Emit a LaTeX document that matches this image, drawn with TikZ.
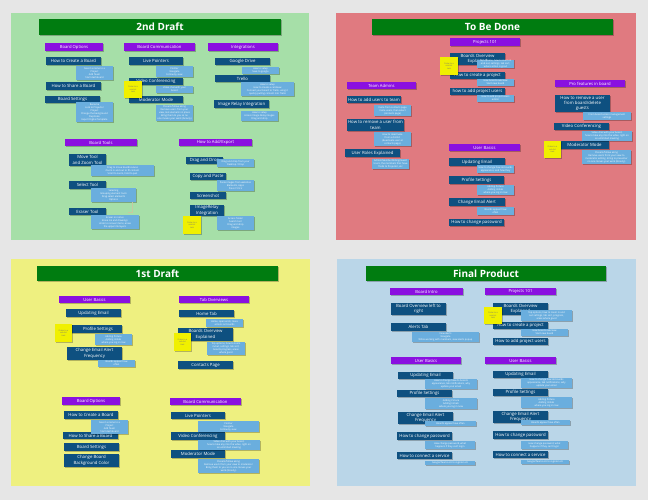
\documentclass[tikz,border=0pt]{standalone}
\usepackage{fontspec}
\setmainfont{Open Sans}
\usetikzlibrary{shadows}
\definecolor{pagebg}{HTML}{E6E6E6}
\definecolor{pgreen}{HTML}{A6DFA8}
\definecolor{pred}{HTML}{E07A80}
\definecolor{pyellow}{HTML}{EEF080}
\definecolor{pblue}{HTML}{BAD6E8}
\definecolor{titlegreen}{HTML}{007C10}
\definecolor{hpurple}{HTML}{8A10E0}
\definecolor{dblue}{HTML}{0E5080}
\definecolor{lblue}{HTML}{6AAEDE}
\definecolor{stickyy}{HTML}{F0F000}
\definecolor{faintline}{HTML}{C8C8A0}
\newcommand\mybox[7]{\node[#1,minimum width={(#4-#2)*1pt},minimum height={(#5-#3)*1pt}] (#6) at ({(#2+#4)/2},{(#3+#5)/2}) {#7};}
\tikzset{
  shd/.style={drop shadow={shadow xshift=0.5pt,shadow yshift=-0.7pt,opacity=0.25,fill=black}},
  titlebar/.style={fill=titlegreen,text=white,font=\bfseries\fontsize{10}{12}\selectfont,inner sep=0pt,shd},
  hdr/.style={fill=hpurple,text=white,font=\fontsize{4.2}{5}\selectfont,inner sep=0pt,shd},
  topic/.style={fill=dblue,text=white,font=\fontsize{4.3}{5.3}\selectfont,inner sep=0pt,align=center,shd},
  note/.style={fill=lblue,text=white,font=\fontsize{2.4}{3}\selectfont,inner sep=0pt,align=center,shd},
  sticky/.style={fill=stickyy,text=black!55,font=\fontsize{2}{2.6}\selectfont,inner sep=0pt,align=center,shd},
}
\begin{document}
\begin{tikzpicture}[x=1pt,y=-1pt]
\useasboundingbox (0,0) rectangle (648,500);
\fill[pagebg] (0,0) rectangle (648,500);
% panels
\fill[pgreen] (11,13) rectangle (309,240);
\fill[pred] (336,13) rectangle (636,240);
\fill[pyellow] (11,259) rectangle (310,486);
\fill[pblue] (337,259) rectangle (636,486);

%%%%%%%%%%%%%%%% 2nd Draft
\mybox{titlebar}{39}{19}{281}{35}{t1}{2nd Draft}
\mybox{hdr}{45}{43}{103}{51}{a1}{Board Options}
\mybox{hdr}{124}{43}{195}{51}{a2}{Board Communication}
\mybox{hdr}{208}{43}{278}{51}{a3}{Integrations}
\mybox{hdr}{65}{139}{137}{146}{a4}{Board Tools}
\mybox{hdr}{179}{139}{252}{146}{a5}{How to Add/Export}
% topics
\mybox{topic}{46}{57}{101}{65}{a1t1}{How to Create a Board}
\mybox{topic}{46}{82}{101}{90}{a1t2}{How to Share a Board}
\mybox{topic}{45}{96}{100}{103}{a1t3}{Board Settings}
\mybox{topic}{129}{57}{183}{65}{a2t1}{Live Pointers}
\mybox{topic}{129}{78}{183}{85}{a2t2}{Video Conferencing}
\mybox{topic}{129}{96}{183}{103}{a2t3}{Moderator Mode}
\mybox{topic}{215}{58}{270}{65}{a3t1}{Google Drive}
\mybox{topic}{215}{75}{270}{82}{a3t2}{Trello}
\mybox{topic}{214}{100}{269}{108}{a3t3}{Image Relay Integration}
\mybox{topic}{69}{154}{106}{166}{a4t1}{Move Tool\\and Zoom Tool}
\mybox{topic}{69}{181}{106}{189}{a4t2}{Select Tool}
\mybox{topic}{69}{208}{106}{215}{a4t3}{Eraser Tool}
\mybox{topic}{186}{157}{223}{164}{a5t1}{Drag and Drop}
\mybox{topic}{190}{173}{226}{180}{a5t2}{Copy and Paste}
\mybox{topic}{190}{192}{226}{199}{a5t3}{Screenshot}
\mybox{topic}{190}{205}{224}{216}{a5t4}{ImageRelay\\Integration}
% notes
\mybox{note}{76}{66}{113}{80}{a1n1}{Give it a name to a\\Project\\Add Team\\Start dashboard}
\mybox{note}{76}{102}{113}{122}{a1n3}{Rename\\Lock to Projector\\Project\\Change the background\\Duplicate\\Export Digital Template}
\mybox{note}{156}{66}{193}{77}{a2n1}{Pointer\\Navigate\\Follow by view}
\mybox{note}{156}{86}{193}{93}{a2n2}{Video chat with your\\board}
\mybox{note}{156}{105}{193}{121}{a2n3}{Present/follow along\\Remove users from your\\view, lock elements in place\\Bring them to you so no\\one moves your work (Gravity)}
\mybox{note}{242}{67}{279}{74}{a3n1}{How to setup\\Save to google}
\mybox{note}{241}{82}{294}{96}{a3n2}{How to setup\\How to create a cardview\\Connect your board to Trello, using it\\quickly pulling content into Trello}
\mybox{note}{241}{111}{278}{121}{a3n3}{How to setup\\Access Image Relay images\\Drag and drop}
\mybox{note}{91}{165}{154}{176}{a4n1}{Drag to move board/canvas\\Zoom in and out to fit content\\Scroll to zoom, hold to pan}
\mybox{note}{91}{188}{136}{202}{a4n2}{Selecting\\Grouping element tools\\Drag select elements\\Options}
\mybox{note}{91}{215}{139}{229}{a4n3}{Eraser on notes\\Erase ink and drawings\\Undo to recover items, erase\\the upper ink layers}
\mybox{note}{217}{159}{254}{167}{a5n1}{Drag and drop from your\\Desktop / Drop}
\mybox{note}{217}{180}{254}{191}{a5n2}{Paste images from websites\\Elements, Apps\\Press Ctrl+V}
\mybox{note}{217}{216}{254}{230}{a5n4}{Access folder\\Search tool\\Drag and drop\\images}
% faint connector
\coordinate (a4c) at (128,212);
\draw[faintline,line width=0.6pt] (a4n2.south -| 132,0) -- (132,212) -- (a4c);
% stickies
\mybox{sticky}{124}{81}{142}{98}{a2s}{Order to a\\sub-list\\task}
\mybox{sticky}{183}{216}{201}{234}{a5s}{Order to a\\sub-list\\task}

%%%%%%%%%%%%%%%% To Be Done
\mybox{titlebar}{372}{19}{613}{35}{t2}{To Be Done}
\mybox{hdr}{450}{38}{520}{46}{b1}{Projects 101}
\mybox{hdr}{347}{82}{416}{89}{b2}{Team Admins}
\mybox{hdr}{555}{80}{625}{87}{b3}{Pro features in board}
\mybox{hdr}{449}{144}{520}{151}{b4}{User Basics}
\mybox{topic}{450}{53}{505}{65}{b1t1}{Boards Overview\\Explained}
\mybox{topic}{450}{72}{505}{79}{b1t2}{How to create a project}
\mybox{topic}{450}{88}{505}{95}{b1t3}{how to add project users}
\mybox{topic}{347}{96}{401}{103}{b2t1}{How to add users to team}
\mybox{topic}{347}{119}{404}{131}{b2t2}{How to remove a user from\\team}
\mybox{topic}{345}{149}{400}{157}{b2t3}{User Roles Explained}
\mybox{topic}{555}{95}{610}{112}{b3t1}{How to remove a user\\from board/delete\\guests}
\mybox{topic}{554}{123}{609}{130}{b3t2}{Video Conferencing}
\mybox{topic}{560}{141}{609}{149}{b3t3}{Moderator Mode}
\mybox{topic}{449}{158}{505}{166}{b4t1}{Updating Email}
\mybox{topic}{449}{176}{504}{184}{b4t2}{Profile Settings}
\mybox{topic}{449}{198}{505}{206}{b4t3}{Change Email Alert}
\mybox{topic}{449}{219}{504}{226}{b4t4}{How to change password}
\mybox{note}{477}{60}{514}{68}{b1n1}{Top options, how to zoom in\\and out, settings, tab sort,\\where action is good}
\mybox{note}{477}{79}{514}{86}{b1n2}{How boards overview\\Start new board}
\mybox{note}{477}{95}{514}{102}{b1n3}{How to add project users\\admin}
\mybox{note}{374}{105}{411}{116}{b2n1}{Invite from contacts page\\Invite users, then select\\(contacts page)}
\mybox{note}{374}{132}{411}{146}{b2n2}{How to deactivate\\from a district\\(deactivate user at\\contacts page)}
\mybox{note}{372}{159}{409}{169}{b2n3}{Admin/Member/Billing/Guest\\Users, the members that have\\Trello to Projector, etc}
\mybox{note}{583}{112}{631}{120}{b3n1}{From board access management\\settings}
\mybox{note}{582}{131}{632}{141}{b3n2}{Video chat with your board,\\how to take any into the video, right on\\an unlimited meeting}
\mybox{note}{582}{150}{631}{164}{b3n3}{Present/follow along\\Remove users from your view to\\moderator editing. Bring to presenter\\no one moves your work (Gravity)}
\mybox{note}{477}{165}{514}{173}{b4n1}{How to change how do boards\\appearance, and how they}
\mybox{note}{477}{185}{514}{195}{b4n2}{Adding Picture\\Adding Initials\\where you log in now}
\mybox{note}{477}{207}{514}{215}{b4n3}{Boards appear how\\often}
\mybox{sticky}{440}{57}{458}{75}{b1s}{Order to a\\sub-list\\task}
\mybox{sticky}{544}{141}{561}{158}{b3s}{Order to a\\sub-list\\task}

%%%%%%%%%%%%%%%% 1st Draft
\mybox{titlebar}{37}{266}{278}{281}{t3}{1st Draft}
\mybox{hdr}{59}{296}{130}{303}{c1}{User Basics}
\mybox{hdr}{179}{296}{249}{303}{c2}{Tab Overviews}
\mybox{hdr}{62}{397}{120}{405}{c3}{Board Options}
\mybox{hdr}{170}{398}{241}{405}{c4}{Board Communication}
\mybox{topic}{66}{309}{121}{317}{c1t1}{Updating Email}
\mybox{topic}{66}{325}{122}{333}{c1t2}{\hspace{8pt}Profile Settings}
\mybox{topic}{67}{347}{122}{360}{c1t3}{Change Email Alert\\Frequency}
\mybox{topic}{64}{411}{118}{419}{c3t1}{How to Create a Board}
\mybox{topic}{63}{432}{118}{439}{c3t2}{How to Share a Board}
\mybox{topic}{64}{443}{119}{451}{c3t3}{Board Settings}
\mybox{topic}{64}{454}{119}{467}{c3t4}{Change Board\\Background Color}
\mybox{topic}{179}{310}{234}{317}{c2t1}{Home Tab}
\mybox{topic}{178}{328}{233}{341}{c2t2}{Boards Overview\\Explained}
\mybox{topic}{178}{361}{233}{369}{c2t3}{Contacts Page}
\mybox{topic}{171}{412}{225}{419}{c4t1}{Live Pointers}
\mybox{topic}{171}{432}{225}{440}{c4t2}{Video Conferencing}
\mybox{topic}{171}{450}{225}{458}{c4t3}{Moderator Mode}
\mybox{note}{95}{334}{132}{345}{c1n2}{Adding Picture\\Adding Initials\\where you log in now}
\mybox{note}{98}{360}{135}{367}{c1n3}{Boards appear how\\often}
\mybox{note}{91}{420}{128}{434}{c3n1}{Give it a name to a\\Project\\Add Team\\Start dashboard}
\mybox{note}{206}{319}{243}{327}{c2n1}{Home, open ends, more\\actions on boards}
\mybox{note}{207}{342}{245}{355}{c2n2}{Top options, how to zoom\\in/out, settings, tab sort,\\boards progress, areas\\where good}
\mybox{note}{198}{421}{259}{432}{c4n1}{Pointer\\Navigate\\Follow by view}
\mybox{note}{198}{440}{260}{450}{c4n2}{Video chat with your board,\\how to take any into the video, right on\\an unlimited meeting}
\mybox{note}{198}{459}{259}{473}{c4n3}{Present/follow along\\Remove users from your view to moderator\\Bring them to you so no one moves your\\work (Gravity)}
\mybox{sticky}{55}{324}{72}{342}{c1s}{Order to a\\sub-list\\task}
\mybox{sticky}{174}{333}{191}{351}{c2s}{Order to a\\sub-list\\task}

%%%%%%%%%%%%%%%% Final Product
\mybox{titlebar}{366}{266}{606}{281}{t4}{Final Product}
\mybox{hdr}{390}{288}{463}{295}{d1}{Board Intro}
\mybox{hdr}{485}{288}{556}{295}{d2}{Projects 101}
\mybox{hdr}{391}{357}{461}{364}{d3}{User Basics}
\mybox{hdr}{485}{357}{556}{364}{d4}{User Basics}
\mybox{topic}{391}{303}{446}{315}{d1t1}{Board Overview left to\\right}
\mybox{topic}{391}{323}{446}{331}{d1t2}{Alerts Tab}
\mybox{topic}{493}{303}{548}{315}{d2t1}{Boards Overview\\Explained}
\mybox{topic}{493}{322}{548}{329}{d2t2}{How to create a project}
\mybox{topic}{493}{338}{548}{345}{d2t3}{How to add project users}
\mybox{topic}{398}{372}{453}{379}{d3t1}{Updating Email}
\mybox{topic}{397}{390}{452}{397}{d3t2}{Profile Settings}
\mybox{topic}{398}{412}{453}{424}{d3t3}{Change Email Alert\\Frequency}
\mybox{topic}{397}{432}{452}{440}{d3t4}{How to change password}
\mybox{topic}{397}{452}{452}{459}{d3t5}{How to connect a service}
\mybox{topic}{493}{371}{548}{378}{d4t1}{Updating Email}
\mybox{topic}{493}{389}{548}{396}{d4t2}{Profile Settings}
\mybox{topic}{493}{411}{548}{423}{d4t3}{Change Email Alert\\Frequency}
\mybox{topic}{493}{431}{548}{439}{d4t4}{How to change password}
\mybox{topic}{493}{451}{548}{458}{d4t5}{How to connect a service}
\mybox{note}{412}{332}{479}{342}{d1n2}{View alerts\\Navigate\\While working with members, view alerts popup}
\mybox{note}{521}{310}{572}{321}{d2n1}{Top options, how to zoom in and\\out settings, tab sort, progress,\\areas where good}
\mybox{note}{521}{329}{568}{336}{d2n2}{How boards overview\\Start new board}
\mybox{note}{425}{379}{477}{389}{d3n1}{How to change how do boards\\appearance, tab notifications, why\\update your email}
\mybox{note}{425}{398}{477}{409}{d3n2}{Adding Picture\\Adding Initials\\where you log in now}
\mybox{note}{425}{421}{476}{426}{d3n3}{Boards appear how often}
\mybox{note}{425}{441}{475}{449}{d3n4}{How change password, what\\happens if they can't login}
\mybox{note}{425}{461}{475}{465}{d3n5}{Google/Teams etc to register etc}
\mybox{note}{521}{378}{572}{388}{d4n1}{How to change how do boards\\appearance, tab notifications, why\\update your email}
\mybox{note}{521}{397}{572}{408}{d4n2}{Adding Picture\\Adding Initials\\where you log in now}
\mybox{note}{521}{420}{570}{425}{d4n3}{Boards appear how often}
\mybox{note}{521}{441}{568}{449}{d4n4}{How change password, what\\happens if they can't login}
\mybox{note}{521}{460}{569}{464}{d4n5}{Google/Teams etc to register etc}
\mybox{sticky}{484}{307}{502}{324}{d2s}{Order to a\\sub-list\\task}
\end{tikzpicture}
\end{document}
